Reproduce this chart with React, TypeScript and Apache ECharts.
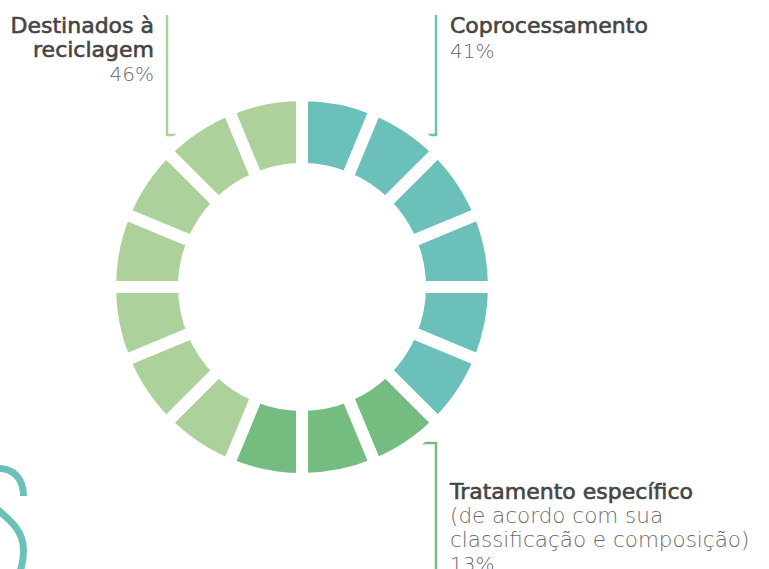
import React, { useEffect, useRef } from "react";
import * as echarts from "echarts";

const categories = ["Coprocessamento", "Tratamento específico", "Destinados à reciclagem"];
const percentages = [41, 13, 46];
const segmentCounts = [6, 3, 7];
const sliceColors = ["#6BC1B9", "#74BC80", "#ADD19A"];
const subNote = ["(de acordo com sua", "classificação e composição)"];

const FONT = "'DejaVu Sans', sans-serif";
const TITLE_COLOR = "#444444";
const PCT_COLOR = "#6a6a6a";

export default function App() {
  const ref = useRef<HTMLDivElement>(null);
  useEffect(() => {
    if (!ref.current) return;
    const chart = echarts.init(ref.current, null, { renderer: "svg" });
    const data: any[] = [];
    categories.forEach((c, i) => {
      for (let k = 0; k < segmentCounts[i]; k++) {
        data.push({ value: 1, name: c, itemStyle: { color: sliceColors[i] } });
      }
    });
    const title = (text: string, x: number, y: number, align: string) => ({
      type: "text",
      x,
      y,
      style: {
        text,
        fill: TITLE_COLOR,
        stroke: TITLE_COLOR,
        lineWidth: 0.6,
        font: `normal 22px ${FONT}`,
        align,
        verticalAlign: "middle",
      },
    });
    const pct = (text: string, x: number, y: number, align: string, size = 20) => ({
      type: "text",
      x,
      y,
      style: { text, fill: PCT_COLOR, font: `200 ${size}px ${FONT}`, align, verticalAlign: "middle" },
    });
    const leftWords = categories[2].split(" ");
    chart.setOption({
      animation: false,
      series: [
        {
          type: "pie",
          center: [302, 287],
          radius: [118, 192],
          startAngle: 90,
          clockwise: true,
          silent: true,
          label: { show: false },
          labelLine: { show: false },
          itemStyle: { borderColor: "#ffffff", borderWidth: 12 },
          emphasis: { disabled: true },
          data,
          z: 2,
        },
      ],
      graphic: [
        { type: "polyline", z: 1, shape: { points: [[167, 15], [167, 135], [196, 135]] }, style: { stroke: sliceColors[2], lineWidth: 2.5, fill: "none" } },
        { type: "polyline", z: 1, shape: { points: [[436, 15], [436, 135], [408, 135]] }, style: { stroke: sliceColors[0], lineWidth: 2.5, fill: "none" } },
        { type: "polyline", z: 1, shape: { points: [[436, 569], [436, 443], [402, 443]] }, style: { stroke: sliceColors[1], lineWidth: 2.5, fill: "none" } },
        { type: "bezierCurve", shape: { x1: -2, y1: 468.5, cpx1: 14, cpy1: 468.5, cpx2: 23.5, cpy2: 479, x2: 23.5, y2: 496 }, style: { stroke: sliceColors[0], lineWidth: 7, fill: "none" } },
        { type: "bezierCurve", shape: { x1: -8, y1: 505, cpx1: 10, cpy1: 520, cpx2: 23.5, cpy2: 530, x2: 23.5, y2: 550 }, style: { stroke: sliceColors[0], lineWidth: 7, fill: "none" } },
        { type: "bezierCurve", shape: { x1: 23.5, y1: 550, cpx1: 23.5, cpy1: 566, cpx2: 19, cpy2: 578, x2: 10, y2: 588 }, style: { stroke: sliceColors[0], lineWidth: 7, fill: "none" } },
        title(leftWords.slice(0, 2).join(" "), 154, 25.5, "right"),
        title(leftWords.slice(2).join(" "), 154, 49.5, "right"),
        pct(`${percentages[2]}%`, 154, 73.5, "right"),
        title(categories[0], 450, 25.5, "left"),
        pct(`${percentages[0]}%`, 450, 50.5, "left"),
        title(categories[1], 450, 491.5, "left"),
        pct(subNote[0], 450, 515.5, "left", 21.5),
        pct(subNote[1], 450, 539.5, "left", 21.5),
        pct(`${percentages[1]}%`, 450, 563.5, "left"),
      ],
    });
    return () => chart.dispose();
  }, []);
  return (
    <div
      ref={ref}
      style={{ position: "fixed", left: 0, top: 0, width: 769, height: 569, background: "#ffffff" }}
    />
  );
}
